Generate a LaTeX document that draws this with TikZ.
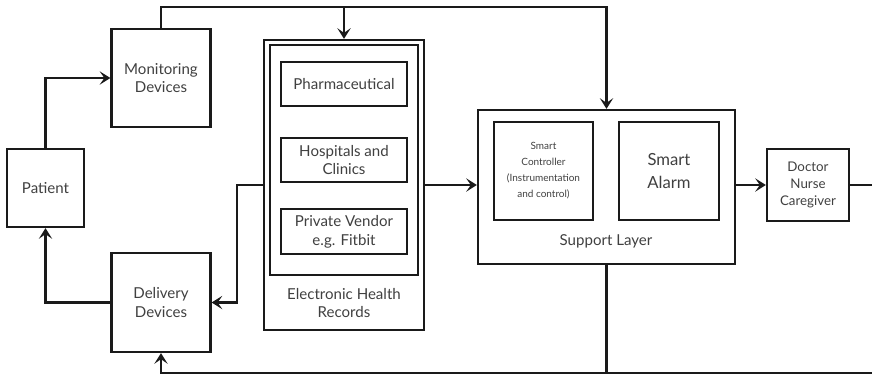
\documentclass[tikz,border=0pt]{standalone}
\usepackage{fontspec}
\setmainfont{Lato}
\usetikzlibrary{arrows.meta}
\definecolor{txtgray}{HTML}{404040}
\definecolor{linegray}{HTML}{1A1A1A}

\begin{document}
\begin{tikzpicture}[x=0.75pt, y=-0.75pt,
        block/.style={draw=linegray, line width=1.7pt, align=center, text=txtgray, font=\fontsize{11.3}{14}\selectfont, inner sep=0pt},
        label/.style={align=center, text=txtgray, font=\fontsize{11.3}{14}\selectfont},
        link/.style={draw=linegray, line width=1.7pt},
        tip/.style={-{Stealth[length=8pt, width=10pt, inset=3.5pt]}}]

        \useasboundingbox (0,0) rectangle (872,375);

        % left side

        \node [block, minimum width=57.75pt, minimum height=58.5pt] (patient) at (45.5,188) {Patient};
        \node [block, minimum width=74.25pt, minimum height=73.5pt] (monitor) at (161,78) {Monitoring\\Devices};
        \node [block, minimum width=74.25pt, minimum height=74.25pt] (delivery) at (161,302.5) {Delivery\\Devices};

        % electronic health records

        \node [block, minimum width=120pt, minimum height=217.5pt] (ehr) at (344,185) {};
        \node [block, minimum width=111pt, minimum height=172.5pt] (ehrin) at (344,160) {};
        \node [block, minimum width=94.5pt, minimum height=33pt] (pharma) at (344,84) {Pharmaceutical};
        \node [block, minimum width=94.5pt, minimum height=33pt] (hosp) at (344,160) {Hospitals and\\Clinics};
        \node [block, minimum width=94.5pt, minimum height=33.75pt] (vendor) at (344,231.5) {Private Vendor\\e.g. Fitbit};
        \node [label] (ehrtext) at (344,303) {Electronic Health\\Records};

        % support layer

        \node [block, minimum width=192.75pt, minimum height=115.5pt] (support) at (606.5,187) {};
        \node [block, minimum width=74.25pt, minimum height=73.5pt, font=\fontsize{7.5}{12}\selectfont] (ctrl) at (543.5,171) {Smart\\Controller\\(Instrumentation\\and control)};
        \node [block, minimum width=75pt, minimum height=73.5pt, font=\fontsize{12.5}{17}\selectfont] (alarm) at (669,171) {Smart\\Alarm};
        \node [label] (suptext) at (606,241) {Support Layer};

        \node [block, minimum width=61.5pt, minimum height=54pt, font=\fontsize{10}{13}\selectfont] (doctor) at (808,185) {Doctor\\Nurse\\Caregiver};

        % connectors

        \coordinate (top) at (606.5,7);
        \coordinate (edgeR) at (872,185);
        \coordinate (edgeB) at (872,373);

        \draw [link, tip] (patient.north) |- (monitor.west);
        \draw [link, tip] (monitor.north) |- (top) -- (support.north);
        \draw [link, tip] (ehr.north |- top) -- (ehr.north);
        \draw [link, tip] (ehr.west) -- ++(-26,0) |- (delivery.east);
        \draw [link, tip] (delivery.west) -| (patient.south);
        \draw [link, tip] (ehr.east) -- (ehr.east -| support.west);
        \draw [link, tip] (support.east |- doctor.west) -- (doctor.west);
        \draw [link] (doctor.east) -- (edgeR);
        \draw [link] (support.south) -- (support.south |- edgeB);
        \draw [link, tip] (edgeB) -| (delivery.south);

\end{tikzpicture}
\end{document}
